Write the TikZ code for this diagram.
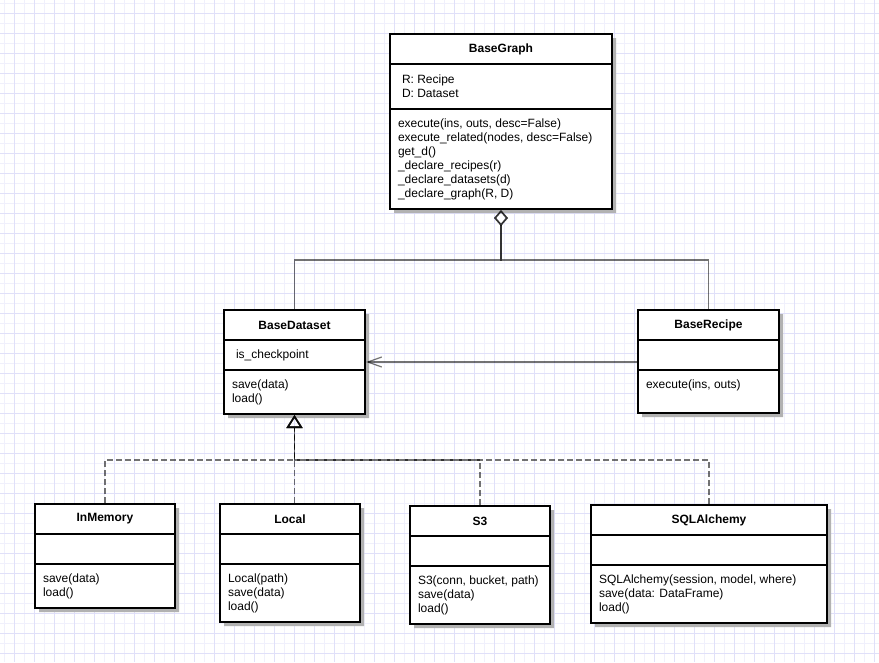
\documentclass[tikz,border=0pt]{standalone}
\usepackage{fontspec}
\setmainfont{Liberation Sans}
\usetikzlibrary{shapes.multipart}
\usetikzlibrary{arrows.meta}
\usetikzlibrary{shadows}

\newdimen\upx \upx=0.75pt
\definecolor{gridmajcol}{RGB}{224,224,249}
\definecolor{gridmincol}{RGB}{240,240,252}
% title, attributes, methods of a class box (each part loses the rule width)
\newcommand{\umlparts}[6]{%
  \parbox[c][28\upx][c]{#1\upx}{\centering\bfseries #2}%
  \nodepart{two}\parbox[c][\dimexpr#3\upx-2\upx\relax][c]{#1\upx}{\raggedright\leftskip=12\upx\relax #4}%
  \nodepart{three}\parbox[c][\dimexpr#5\upx-2\upx\relax][t]{#1\upx}{\raggedright\leftskip=8\upx\relax\rule{0pt}{17\upx}#6}}

\begin{document}
\begin{tikzpicture}[x=\upx,y=-\upx,font=\fontsize{9pt}{10.5pt}\selectfont]
\tikzset{umlclass/.style={rectangle split,rectangle split parts=3,draw,line width=1.5pt,fill=white,inner sep=0pt,anchor=north west,drop shadow={shadow xshift=3pt,shadow yshift=-3pt,fill=black!30,opacity=1}},
  gridmaj/.style={draw=gridmajcol,line width=0.75pt},
  gridmin/.style={draw=gridmincol,line width=0.75pt},
  aggr/.style={draw=black,draw opacity=0.55,line width=1.2pt,-{Diamond[open,length=12pt,width=10.5pt]}},
  inher/.style={draw=black,draw opacity=0.55,line width=1.2pt,dash pattern=on 4.5pt off 2.25pt,-{Triangle[open,length=9.75pt,width=12pt]}},
  assoc/.style={draw=black,draw opacity=0.55,line width=1.2pt,-{Straight Barb[length=10.5pt,width=7.5pt,line width=0.9pt]}}}
\useasboundingbox (0,0) rectangle (879,662);
\fill[white] (0,0) rectangle (879,662);
% background grid
\foreach \gx in {4,24,...,874} \draw[gridmin] (\gx,0) -- (\gx,662);
\foreach \gy in {3,23,...,660} \draw[gridmin] (0,\gy) -- (879,\gy);
\foreach \gx in {14,34,...,874} \draw[gridmaj] (\gx,0) -- (\gx,662);
\foreach \gy in {13,33,...,660} \draw[gridmaj] (0,\gy) -- (879,\gy);

\node[umlclass](bgraph) at (389,33){\umlparts{222}{BaseGraph}{45}{R: Recipe\\D: Dataset}{100}{execute(ins, outs, desc=False)\\execute\_related(nodes, desc=False)\\get\_d()\\\_declare\_recipes(r)\\\_declare\_datasets(d)\\\_declare\_graph(R, D)}};
\node[umlclass](bdata) at (223,309){\umlparts{141}{BaseDataset}{30}{is\_checkpoint}{44}{save(data)\\load()}};
\node[umlclass](brecipe) at (637,309){\umlparts{141}{BaseRecipe}{30}{}{43}{execute(ins, outs)}};
\node[umlclass](inmem) at (34,503){\umlparts{140}{InMemory}{30}{}{44}{save(data)\\load()}};
\node[umlclass](local) at (219,503){\umlparts{140}{Local}{30}{}{58}{Local(path)\\save(data)\\load()}};
\node[umlclass](sthree) at (409,505){\umlparts{140}{S3}{30}{}{58}{S3(conn, bucket, path)\\save(data)\\load()}};
\node[umlclass](sqlalch) at (590,504){\umlparts{236}{SQLAlchemy}{30}{}{58}{SQLAlchemy(session, model, where)\\save(data: DataFrame)\\load()}};

\path (bgraph.south) ++(0,50) coordinate (aggj);
\path (bdata.south) ++(0,45) coordinate (inhj);
\draw[aggr](bdata.north) |- (aggj) -- (bgraph.south);
\draw[aggr](brecipe.north) |- (aggj) -- (bgraph.south);
\draw[assoc](brecipe.west |- bdata.east) -- (bdata.east);
\draw[inher](inmem.north) |- (inhj) -- (bdata.south);
\draw[inher](bdata.south |- local.north) -- (inhj) -- (bdata.south);
\draw[inher](sthree.north) |- (inhj) -- (bdata.south);
\draw[inher](sqlalch.north) |- (inhj) -- (bdata.south);
\end{tikzpicture}
\end{document}
